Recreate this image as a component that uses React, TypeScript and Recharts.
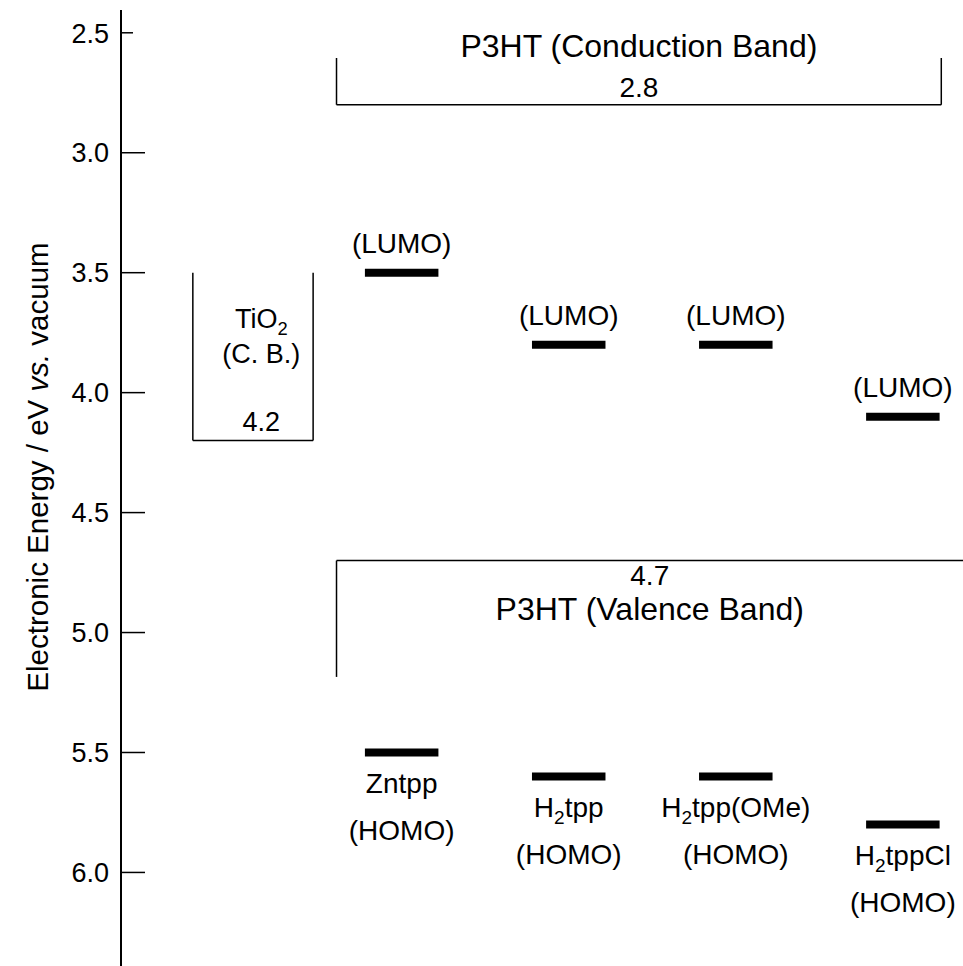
import React from 'react';
import { ScatterChart, Scatter, XAxis, YAxis, ReferenceLine } from 'recharts';

// energy levels (eV vs. vacuum)
const compounds = ['Zntpp', 'H2tpp', 'H2tpp(OMe)', 'H2tppCl'];
const lumoLevels = [3.5, 3.8, 3.8, 4.1];
const homoLevels = [5.5, 5.6, 5.6, 5.8];

const bandNames = ['P3HT (Conduction Band)', 'P3HT (Valence Band)'];
const bandEdges = [2.8, 4.7];

const tio2Names = ['TiO2', '(C. B.)'];
const tio2Edge = 4.2;

const yTicks = [2.5, 3.0, 3.5, 4.0, 4.5, 5.0, 5.5, 6.0];

// layout (x in column units, y in eV)
const X_DOMAIN: [number, number] = [-0.68, 4.36];
const Y_DOMAIN: [number, number] = [2.405, 6.39];
const BAR_HALF = 0.22;
const TIO2_LEFT = -0.25;
const TIO2_RIGHT = 0.47;
const TIO2_TOP = 3.5;
const TIO2_TEXT_X = 0.16;
const P3HT_LEFT = 0.61;
const CB_RIGHT = 4.23;
const CB_TOP = 2.605;
const VB_BOTTOM = 5.185;

const FONT = '"Liberation Sans", Arial, Helvetica, sans-serif';
const LABEL_SIZE = 28;
const TITLE_SIZE = 32;
const TIO2_SIZE = 27;

type LabelPoint = { x: number; y: number; text: string; size: number };

const labels: LabelPoint[] = [
  ...compounds.map((_, i) => ({ x: i + 1, y: lumoLevels[i] - 0.083, text: '(LUMO)', size: LABEL_SIZE })),
  ...compounds.map((c, i) => ({ x: i + 1, y: homoLevels[i] + 0.167, text: c, size: LABEL_SIZE })),
  ...compounds.map((_, i) => ({ x: i + 1, y: homoLevels[i] + 0.365, text: '(HOMO)', size: LABEL_SIZE })),
  { x: (P3HT_LEFT + CB_RIGHT) / 2, y: bandEdges[0] - 0.199, text: bandNames[0], size: TITLE_SIZE },
  { x: (P3HT_LEFT + CB_RIGHT) / 2, y: bandEdges[0] - 0.032, text: bandEdges[0].toFixed(1), size: LABEL_SIZE },
  { x: (P3HT_LEFT + X_DOMAIN[1]) / 2, y: bandEdges[1] + 0.102, text: bandEdges[1].toFixed(1), size: LABEL_SIZE },
  { x: (P3HT_LEFT + X_DOMAIN[1]) / 2, y: bandEdges[1] + 0.247, text: bandNames[1], size: TITLE_SIZE },
  { x: TIO2_TEXT_X, y: tio2Edge - 0.469, text: tio2Names[0], size: TIO2_SIZE },
  { x: TIO2_TEXT_X, y: tio2Edge - 0.324, text: tio2Names[1], size: TIO2_SIZE },
  { x: TIO2_TEXT_X, y: tio2Edge - 0.04, text: tio2Edge.toFixed(1), size: TIO2_SIZE },
];

// "H2tpp" -> H + subscript 2 + tpp
const chem = (s: string, size: number) => {
  const m = s.match(/^(.*?[A-Za-z])2(.*)$/);
  if (!m) return s;
  const shift = Math.round(size * 0.25);
  return (
    <>
      {m[1]}
      <tspan fontSize={size * 0.68} dy={shift}>2</tspan>
      <tspan dy={-shift}>{m[2]}</tspan>
    </>
  );
};

const LabelShape = (props: any) => {
  const { cx, cy, payload } = props;
  return (
    <text x={cx} y={cy} textAnchor="middle" fontSize={payload.size} fontFamily={FONT} fill="#000">
      {chem(payload.text, payload.size)}
    </text>
  );
};

const AxisTick = (props: any) => {
  const { x, y, payload } = props;
  const len = payload.value === 2.5 ? 12 : 24;
  return (
    <g>
      <line x1={x + 12} x2={x + 12 + len} y1={y} y2={y} stroke="#000" strokeWidth={1.5} />
      <text x={x} y={y} dy="0.36em" textAnchor="end" fontSize={27} fontFamily={FONT} fill="#000">
        {Number(payload.value).toFixed(1)}
      </text>
    </g>
  );
};

const YLabel = () => {
  const cx = 37;
  const cy = 467;
  return (
    <text
      x={cx}
      y={cy}
      transform={`rotate(-90 ${cx} ${cy})`}
      textAnchor="middle"
      dominantBaseline="central"
      fontSize={29.5}
      fontFamily={FONT}
      fill="#000"
    >
      Electronic Energy / eV <tspan fontStyle="italic">vs.</tspan> vacuum
    </text>
  );
};

const seg = (x1: number, y1: number, x2: number, y2: number, w: number, key: string) => (
  <ReferenceLine
    key={key}
    segment={[{ x: x1, y: y1 }, { x: x2, y: y2 }]}
    stroke="#000"
    strokeWidth={w}
    ifOverflow="visible"
  />
);

export default function App() {
  return (
    <div style={{ background: '#fff' }}>
      <style>{`body{margin:0}`}</style>
      <ScatterChart width={963} height={966} margin={{ top: 10, right: 0, bottom: 0, left: 0 }}>
        <XAxis type="number" dataKey="x" domain={X_DOMAIN} allowDataOverflow hide />
        <YAxis
          type="number"
          dataKey="y"
          domain={Y_DOMAIN}
          allowDataOverflow
          reversed
          width={121}
          ticks={yTicks}
          interval={0}
          tickSize={0}
          tickMargin={12}
          tickLine={false}
          tick={AxisTick}
          axisLine={{ stroke: '#000', strokeWidth: 2 }}
          label={YLabel}
        />
        {/* TiO2 conduction band box */}
        {seg(TIO2_LEFT, TIO2_TOP, TIO2_LEFT, tio2Edge, 1.5, 'tl')}
        {seg(TIO2_RIGHT, TIO2_TOP, TIO2_RIGHT, tio2Edge, 1.5, 'tr')}
        {seg(TIO2_LEFT, tio2Edge, TIO2_RIGHT, tio2Edge, 1.5, 'tb')}
        {/* P3HT conduction band bracket */}
        {seg(P3HT_LEFT, CB_TOP, P3HT_LEFT, bandEdges[0], 1.5, 'cl')}
        {seg(CB_RIGHT, CB_TOP, CB_RIGHT, bandEdges[0], 1.5, 'cr')}
        {seg(P3HT_LEFT, bandEdges[0], CB_RIGHT, bandEdges[0], 1.5, 'cb')}
        {/* P3HT valence band */}
        {seg(P3HT_LEFT, bandEdges[1], X_DOMAIN[1], bandEdges[1], 1.5, 'vt')}
        {seg(P3HT_LEFT, bandEdges[1], P3HT_LEFT, VB_BOTTOM, 1.5, 'vl')}
        {/* porphyrin levels */}
        {lumoLevels.map((v, i) => seg(i + 1 - BAR_HALF, v, i + 1 + BAR_HALF, v, 8, `l${i}`))}
        {homoLevels.map((v, i) => seg(i + 1 - BAR_HALF, v, i + 1 + BAR_HALF, v, 8, `h${i}`))}
        <Scatter data={labels} shape={LabelShape} isAnimationActive={false} />
      </ScatterChart>
    </div>
  );
}
